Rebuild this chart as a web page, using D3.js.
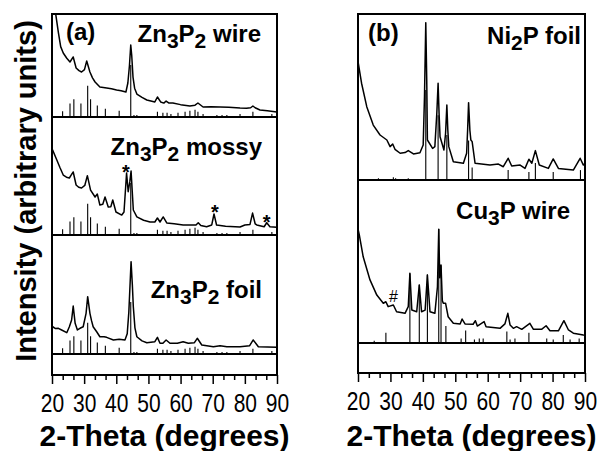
<!DOCTYPE html>
<html><head><meta charset="utf-8">
<script src="https://cdn.jsdelivr.net/npm/d3@7"></script>
<style>body{margin:0;background:#fff} svg{display:block}</style>
</head><body><svg id="c" width="598" height="451"></svg>
<script>
// ---------- DATA ----------
const thetaDomain = [20, 90];
const majorTicks = [20, 30, 40, 50, 60, 70, 80, 90];

// measured patterns: [2-theta, intensity (% of panel height)]
const zn3p2Wire = [[20.0,115],[21.2,99],[22.0,81.6],[22.7,68.3],[23.5,62.1],[24.6,57],[25.6,53.4],[26.6,58.3],[27.5,47.6],[28.4,45],[29.2,43.7],[30.1,46],[30.8,54.4],[31.8,43.7],[32.6,38],[33.4,34.0],[34.9,29.1],[37.0,28.2],[38.5,27.5],[40.1,26.2],[41.5,25.5],[43.0,24.3],[43.6,33.0],[44.1,50],[44.5,69.9],[44.8,60],[45.2,38.8],[45.7,28],[46.4,22.3],[48.0,19],[49.5,16.5],[52.0,14.6],[52.8,19.4],[53.8,14.6],[54.8,13.5],[55.5,15.5],[56.4,13.5],[57.6,13.6],[60.0,12],[62.9,10.7],[64.5,11.5],[65.4,13.6],[67.0,9.7],[69.5,10],[72.3,9.7],[75,9.5],[78.5,8.7],[80.5,8.5],[81.8,9],[82.5,10.7],[83.2,9],[84.7,6.8],[87,6],[89.9,4.9]];

const zn3p2Mossy = [[20.0,73.5],[20.2,72.0],[21.5,63.6],[22.5,57],[23.5,50.8],[24.5,49],[25.4,48.3],[26.0,51],[26.6,53.4],[27.5,42.4],[28.3,40.5],[29.2,39.8],[30.2,42],[31.0,50.3],[32.0,38.1],[33.4,32.2],[34.1,34.7],[34.9,25.4],[35.8,26],[36.5,32.2],[37.5,23.7],[38.3,24],[38.9,29.7],[39.9,19.5],[41.7,16.9],[42.4,19.5],[42.9,40],[43.2,52.5],[43.7,36.7],[44.2,45],[44.6,54.2],[45.3,21.2],[46.4,15.3],[48.5,12.5],[50.5,11.0],[52.0,11],[52.8,14.4],[53.6,11.0],[54.6,15.3],[55.7,10.2],[58,9.5],[60.8,8.5],[63,8.5],[64.8,8.5],[65.5,10.4],[66.3,8],[68.1,7.0],[69.7,8.5],[70.4,17.8],[71.2,8.5],[74,7.5],[78.5,6.8],[80.0,8.5],[81.6,9],[82.4,18.6],[83.2,9.5],[83.7,8.5],[86.0,7.0],[86.8,10.4],[87.8,7.0],[89.9,6.5]];

const zn3p2Foil = [[20.0,23.5],[20.2,22.9],[21.0,21.5],[22.0,21.6],[23.0,20.2],[24.6,17.9],[25.4,22.9],[26.1,28.6],[26.6,40.3],[27.2,25.8],[27.9,20.2],[28.7,21.6],[29.7,22.9],[30.6,34.2],[31.1,48.2],[31.8,34.2],[32.3,28],[32.8,22.9],[33.9,18.7],[34.9,14.5],[36.2,14.5],[37.0,14.0],[39.1,11.8],[40.9,12.4],[42.7,11.8],[43.4,17],[43.9,35],[44.6,77.6],[45.0,58],[45.3,39.7],[45.8,22],[46.4,14.5],[48,11],[49.5,9.5],[52.0,10.3],[52.8,14.0],[53.6,9.0],[54.5,9],[55.5,11.8],[56.7,9.0],[59,9],[60.8,10.3],[62.4,9.0],[64.3,9.5],[65.2,13.2],[66.6,7.6],[70.2,6.1],[72.3,7.0],[74.4,6.1],[78.5,6.1],[81.5,7],[82.6,11.8],[84.2,6.1],[89.9,5.6]];

const ni2pFoil = [[20.0,71.5],[20.1,70.3],[21.1,58.3],[22.7,44.2],[24.7,33.1],[26.8,27.1],[28.9,24.1],[29.9,20.1],[30.7,21.7],[31.4,18.5],[33.0,16.1],[34.5,16.5],[35.5,17.7],[37.1,15.7],[39.1,16.4],[40.1,21.1],[40.5,50],[40.9,94.8],[41.2,60],[41.4,24.1],[43.0,19],[43.7,20.1],[44.3,40],[44.7,58.3],[45.0,40],[45.3,26.1],[46.5,18.1],[47.0,28],[47.4,45.2],[47.7,30],[48.0,20.1],[49.4,11.0],[52.5,10.1],[53.5,16.1],[53.8,30],[54.1,46.6],[54.5,30],[54.8,24.1],[55.2,23.1],[56.1,10.1],[60.7,9.0],[63.3,9.6],[64.8,8.0],[66.3,13.1],[67.4,8.4],[70.0,9.0],[71.5,7.0],[72.7,12.5],[73.6,10.1],[74.7,17.7],[75.9,9.0],[78.7,7.0],[80.2,12.7],[81.8,7.0],[86.4,6.0],[88.5,13.1],[89.5,9.0],[90,10]];

const cu3pWire = [[20.0,70],[20.4,66.3],[21.6,52.9],[23.7,38.7],[25.8,29.4],[27.8,24.4],[28.6,25.3],[29.3,22.3],[30.9,23.3],[31.9,19.2],[34.5,18.2],[35.5,22.3],[36.0,42.8],[36.6,20.2],[38.1,19.2],[38.9,35.6],[39.6,19.2],[40.7,20.2],[41.4,41.7],[42.2,19.2],[43.7,18.2],[44.5,34.5],[44.9,69.8],[45.2,40],[45.6,47.9],[46.0,26],[46.3,24.4],[47.0,24.4],[47.8,16.1],[49.4,12.1],[51.5,11.7],[52.1,14.7],[53.0,11.7],[55.5,11.5],[56.2,13.7],[56.8,10.4],[58.9,13.1],[59.5,10.0],[63.8,9.0],[65.3,11.7],[66.2,18.2],[66.9,11.0],[67.9,9.0],[68.9,10.0],[70.5,8.4],[73.0,12.1],[74.1,8.4],[76.6,8.4],[78.0,10.6],[79.2,7.5],[81.8,7.5],[83.5,13.7],[84.9,8.0],[86.4,6.0],[89.5,4.9],[90,4.8]];

// reference stick patterns: [2-theta, relative intensity]
const zn3p2Sticks = [[23.3,11],[25.6,26],[26.8,34],[29.0,26],[31.1,60],[32.0,34],[34.1,22],[36.6,16],[40.9,12],[44.5,100],[45.5,4],[46.4,4],[52.8,10],[54.5,8],[55.8,8],[57.0,6],[59.2,8],[61.4,10],[62.9,12],[64.5,14],[65.4,10],[67.0,6],[71.3,4],[72.9,4],[74.4,4],[78.5,6],[82.5,10],[88.4,6]];
const ni2pSticks = [[26.3,2],[30.9,3],[31.6,2],[35.5,2],[40.9,100],[44.7,72],[47.4,50],[54.1,44],[55.2,14],[66.3,11],[72.7,9],[74.7,19],[80.2,9],[88.6,11]];
const cu3pSticks = [[25.0,2],[28.6,9],[36.0,61],[38.9,51],[41.4,60],[44.9,100],[45.6,68],[47.1,15],[51.8,4],[53.2,11],[55.9,3],[57.4,4],[58.6,4],[65.9,10],[66.9,3],[68.4,4],[72.7,9],[78.2,4],[80.2,3],[83.3,7],[85.4,3],[88.2,4]];

// impurity markers
const znStars = [[43.0,57.9],[70.7,23.5],[86.8,15.0]];
const hashMarks = [[30.9,28]];

// texts
const panelTags = ["(a)", "(b)"];
const sampleNames = [
  [["Zn",0],["3",1],["P",0],["2",1],[" wire",0]],
  [["Zn",0],["3",1],["P",0],["2",1],[" mossy",0]],
  [["Zn",0],["3",1],["P",0],["2",1],[" foil",0]],
  [["Ni",0],["2",1],["P foil",0]],
  [["Cu",0],["3",1],["P wire",0]]
];
const xTitle = "2-Theta (degrees)";
const yTitle = "Intensity (arbitrary units)";

// ---------- LAYOUT ----------
const svg = d3.select('#c');
const groups = [
  {x0:52, x1:277, top:14, bottom:375, dividers:[117,235,354], tagX:66, tagY:40},
  {x0:358, x1:585, top:14, bottom:373, dividers:[180,343], tagX:368, tagY:41}
];
const panels = [
  {g:0, top:14,  bottom:117, data:zn3p2Wire,  sticks:zn3p2Sticks, stickPx:52,  nameX:261, nameY:42},
  {g:0, top:117, bottom:235, data:zn3p2Mossy, sticks:zn3p2Sticks, stickPx:52,  nameX:262, nameY:155},
  {g:0, top:235, bottom:354, data:zn3p2Foil,  sticks:zn3p2Sticks, stickPx:52,  nameX:262, nameY:298},
  {g:1, top:14,  bottom:180, data:ni2pFoil,   sticks:ni2pSticks,  stickPx:90,  nameX:581, nameY:44},
  {g:1, top:180, bottom:343, data:cu3pWire,   sticks:cu3pSticks,  stickPx:114, nameX:570, nameY:219}
];
const FONT = "Liberation Sans, Arial, Helvetica, sans-serif";
const LABEL_STRETCH = 1.2;

const xScales = groups.map(g => d3.scaleLinear().domain(thetaDomain).range([g.x0, g.x1]));
const defs = svg.append('defs');

panels.forEach((p, i) => {
  const g = groups[p.g], x = xScales[p.g];
  const y = d3.scaleLinear().domain([0, 100]).range([p.bottom, p.top]);
  const hs = d3.scaleLinear().domain([0, 100]).range([0, p.stickPx]);
  defs.append('clipPath').attr('id', 'clip' + i).append('rect')
    .attr('x', g.x0).attr('y', p.top).attr('width', g.x1 - g.x0).attr('height', p.bottom - p.top);
  const pg = svg.append('g').attr('clip-path', `url(#clip${i})`);
  pg.selectAll('line.stick').data(p.sticks).join('line')
    .attr('x1', d => x(d[0])).attr('x2', d => x(d[0]))
    .attr('y1', p.bottom).attr('y2', d => p.bottom - hs(d[1]))
    .attr('stroke', '#000').attr('stroke-width', 1.1);
  pg.append('path').datum(p.data)
    .attr('d', d3.line().x(d => x(d[0])).y(d => y(d[1])))
    .attr('fill', 'none').attr('stroke', '#000').attr('stroke-width', 1.5)
    .attr('stroke-linejoin', 'round');
  // sample name with subscripts
  const t = svg.append('text').attr('x', p.nameX).attr('y', p.nameY)
    .attr('text-anchor', 'end').attr('font-family', FONT).attr('font-weight', 'bold')
    .attr('font-size', 24);
  let shifted = false;
  sampleNames[i].forEach(([s, sub]) => {
    const ts = t.append('tspan').text(s);
    if (sub && !shifted) { ts.attr('dy', 6).attr('font-size', 21); shifted = true; }
    else if (sub && shifted) { ts.attr('font-size', 21); }
    else if (!sub && shifted) { ts.attr('dy', -6); shifted = false; }
  });
  if (i === 1) {
    svg.selectAll('text.star').data(znStars).join('text').attr('class', 'star')
      .attr('x', d => x(d[0])).attr('y', d => y(d[1]) + 12)
      .attr('text-anchor', 'middle').attr('font-family', FONT).attr('font-weight', 'bold')
      .attr('font-size', 20).text('*');
  }
  if (i === 4) {
    svg.selectAll('text.hash').data(hashMarks).join('text').attr('class', 'hash')
      .attr('x', d => x(d[0])).attr('y', d => y(d[1]) + 5)
      .attr('text-anchor', 'middle').attr('font-family', FONT)
      .attr('font-size', 16).text('#');
  }
});

groups.forEach((g, gi) => {
  const x = xScales[gi];
  svg.append('rect').attr('x', g.x0).attr('y', g.top).attr('width', g.x1 - g.x0)
    .attr('height', g.bottom - g.top).attr('fill', 'none').attr('stroke', '#000').attr('stroke-width', 2);
  g.dividers.forEach(d => svg.append('line').attr('x1', g.x0).attr('x2', g.x1)
    .attr('y1', d).attr('y2', d).attr('stroke', '#000').attr('stroke-width', 2));
  // minor ticks (two between majors)
  const minor = d3.range(20, 90.001, 10 / 3).filter(v => Math.abs(v / 10 - Math.round(v / 10)) > 0.01);
  const minorAxis = svg.append('g').attr('transform', `translate(0,${g.bottom})`)
    .call(d3.axisBottom(x).tickValues(minor).tickSize(5).tickFormat(''));
  minorAxis.select('.domain').remove();
  minorAxis.selectAll('line').attr('stroke-width', 1.5);
  const majorAxis = svg.append('g').attr('transform', `translate(0,${g.bottom})`)
    .call(d3.axisBottom(x).tickValues(majorTicks).tickSize(9).tickPadding(7).tickFormat(d3.format('d')));
  majorAxis.select('.domain').remove();
  majorAxis.selectAll('line').attr('stroke-width', 1.5);
  majorAxis.selectAll('text').attr('font-family', FONT).attr('font-size', 21).attr('fill', '#000')
    .attr('transform', `scale(1,${LABEL_STRETCH})`);
  svg.append('text').attr('x', (g.x0 + g.x1) / 2).attr('y', 446).attr('text-anchor', 'middle')
    .attr('font-family', FONT).attr('font-weight', 'bold').attr('font-size', 30).text(xTitle);
  svg.append('text').attr('x', g.tagX).attr('y', g.tagY).attr('font-family', FONT)
    .attr('font-weight', 'bold').attr('font-size', 24).text(panelTags[gi]);
});

svg.append('text').attr('transform', 'translate(36,191) rotate(-90)').attr('text-anchor', 'middle')
  .attr('font-family', FONT).attr('font-weight', 'bold').attr('font-size', 29).text(yTitle);
</script></body></html>
